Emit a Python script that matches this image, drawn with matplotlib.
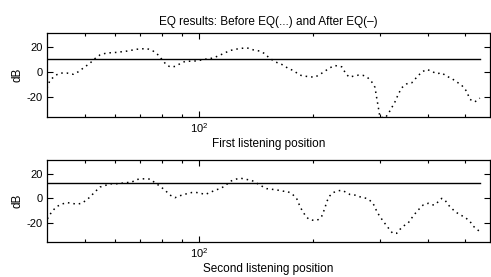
import numpy as np
import matplotlib
matplotlib.use('Agg')
import matplotlib.pyplot as plt
from matplotlib.ticker import FixedLocator, NullFormatter

plt.rcParams['font.family'] = ['Liberation Sans', 'DejaVu Sans']
plt.rcParams['mathtext.default'] = 'regular'
plt.rcParams['axes.unicode_minus'] = False

# first listening position: before EQ (dotted)
freq_first = [39.8, 40.5, 41.8, 43.1, 44.9, 46.7, 48.1, 49.6, 51.7, 53.2, 54.9, 57.1,
              60.7, 64.5, 68.6, 72.9, 75.8, 78.2, 79.8, 82.2, 84.2, 86.5, 89.1, 91.9,
              95.7, 98.6, 103.7, 109.0, 114.7, 120.7, 126.9, 133.5, 139.0, 144.7, 149.2,
              152.2, 158.5, 165.1, 171.8, 177.1, 184.5, 190.1, 195.9, 201.9, 208.1, 214.5,
              221.1, 227.9, 237.5, 243.7, 248.6, 254.7, 262.6, 270.7, 277.3, 284.8, 290.5,
              293.6, 296.4, 299.3, 308.7, 314.8, 321.4, 328.0, 334.6, 341.5, 352.3, 363.1,
              374.3, 385.5, 397.5, 409.5, 422.2, 435.2, 448.5, 462.3, 476.5, 491.3, 506.3,
              516.5, 532.4, 548.7]
db_first = [-13, -7, -3, -1, -1, -2, 0, 3, 7, 10.5, 13.5, 15,
            15.5, 16.5, 18, 18.6, 16.5, 13.3, 10, 5.3, 3.8, 4.3, 6.4, 8.3,
            8.5, 8.7, 10, 11, 13.9, 17, 18.4, 19.2, 17.5, 16.5, 14.4,
            11.7, 8, 5.9, 2.7, 1, -2.7, -3.5, -4, -4.3, -2.1, 0.5,
            3.2, 5, 4, -1.6, -4.3, -3.5, -2.7, -2.9, -4.3, -8, -12.3,
            -20.8, -28, -36, -37, -33.6, -28.8, -24, -18, -12.8, -9.6, -8.8,
            -4.3, -0.3, 1.9, 0.5, -1.6, -0.8, -3.5, -5.3, -8, -10.7, -15.5,
            -22, -24, -21]

# second listening position: before EQ (dotted)
freq_second = [39.9, 41.0, 42.2, 43.5, 44.9, 46.2, 47.7, 49.1, 50.6, 51.7, 53.2, 54.9,
               57.6, 58.9, 61.3, 63.9, 66.5, 68.6, 71.4, 74.3, 76.6, 79.0, 81.4, 83.9,
               86.5, 89.1, 92.8, 95.7, 98.6, 101.6, 103.7, 106.9, 110.2, 113.6, 117.0,
               120.7, 124.4, 128.2, 133.5, 137.6, 140.4, 146.2, 150.7, 155.3, 161.7, 166.7,
               170.1, 175.4, 180.7, 184.5, 187.5, 191.2, 195.1, 201.9, 206.1, 210.3, 214.5,
               216.8, 221.1, 225.6, 232.6, 237.5, 244.7, 249.7, 257.4, 265.3, 276.3, 284.8,
               290.5, 293.6, 299.3, 305.5, 314.8, 323.4, 331.4, 338.1, 344.9, 355.5, 363.1,
               374.3, 381.6, 389.4, 401.4, 409.5, 417.8, 426.3, 435.2, 444.0, 452.9, 462.3,
               471.6, 486.2, 501.2, 516.5, 527.2, 543.3, 548.7]
db_second = [-17, -11, -7, -5, -3.7, -4.3, -5, -4.3, -1.6, 1, 5, 9,
             11, 11.7, 11.7, 12.5, 13, 15.2, 15.7, 15.5, 12.5, 9.6, 6.4, 2.4,
             0.3, 1.9, 3.5, 4.5, 4.5, 3.7, 2.9, 4.5, 6.4, 7.7, 9.8,
             13.6, 15.2, 16.3, 15.2, 14.4, 13, 9.8, 7.7, 7.2, 6.4, 5.6,
             5.6, 3.7, -0.3, -7, -11, -15, -17.6, -18.4, -17.6, -15, -8.3,
             -3, 1.9, 4.5, 5.9, 6.4, 4.5, 2.9, 2.4, 1, -0.3, -3,
             -7, -11, -15, -19, -24.3, -28.8, -28.8, -25.6, -23, -20.3, -16.3,
             -11, -8.3, -5.6, -4.3, -5.6, -5.6, -3, -0.3, -1.6, -5.6, -8.3,
             -11, -13.6, -15.7, -19, -23, -26.4, -27.5]

# after EQ (flat target level)
after_first = 10
after_second = 12
xlabels = ['First listening position', 'Second listening position']

fig = plt.figure(figsize=(4.91, 2.77), dpi=100)
ax1 = fig.add_axes([0.0957, 0.578, 0.902, 0.303])
ax2 = fig.add_axes([0.0957, 0.126, 0.902, 0.296])

panels = [(ax1, freq_first, db_first, after_first),
          (ax2, freq_second, db_second, after_second)]
for i, (ax, f, d, a) in enumerate(panels):
    ax.semilogx(f, d, color='black', linestyle=(0, (1, 2.6)), linewidth=1.1)
    ax.plot([f[0], f[-1]], [a, a], color='black', linewidth=1.0)
    ax.set_xlim(39.8, 583)
    ax.set_ylim(-36, 31)
    ax.set_yticks([-20, 0, 20])
    ax.xaxis.set_major_locator(FixedLocator([100]))
    ax.set_xticklabels([r'$10^2$'])
    ax.xaxis.set_minor_locator(FixedLocator([50, 60, 70, 80, 90, 200, 300, 400, 500]))
    ax.xaxis.set_minor_formatter(NullFormatter())
    ax.tick_params(which='both', direction='in', top=True, right=True,
                   labelsize=8, pad=3, width=0.8)
    ax.tick_params(which='major', length=4)
    ax.tick_params(which='minor', length=2.5)
    for s in ax.spines.values():
        s.set_linewidth(0.9)
    ax.set_ylabel('dB', fontsize=8.5, labelpad=2)
    ax.set_xlabel(xlabels[i], fontsize=8.5, labelpad=2)

ax1.set_title('EQ results: Before EQ(...) and After EQ(\u2013)', fontsize=8.5, pad=6)

fig.savefig('out.png', dpi=100)
